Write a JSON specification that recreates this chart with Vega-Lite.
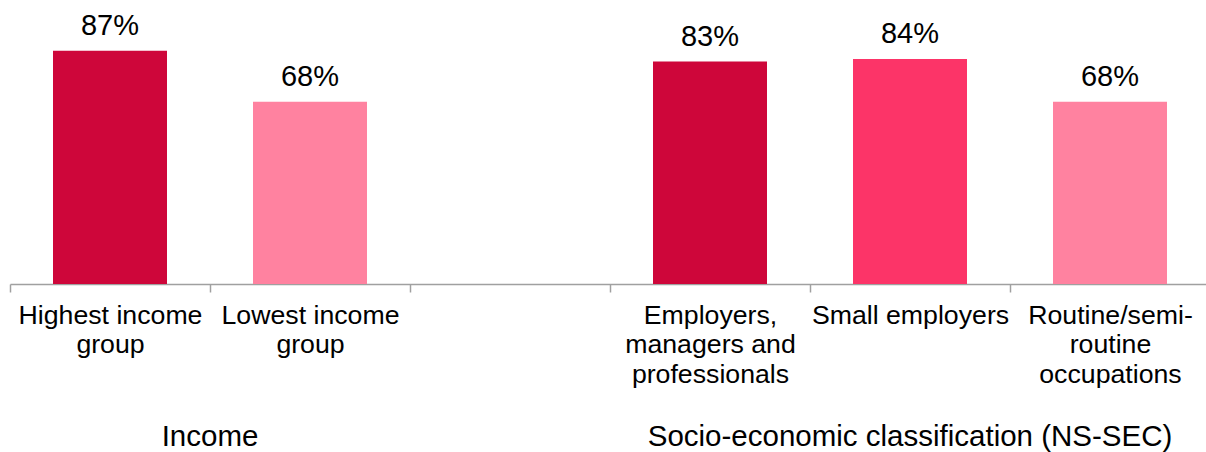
{
  "$schema": "https://vega.github.io/schema/vega-lite/v6.json",
  "width": 1200,
  "height": 268,
  "autosize": "none",
  "padding": {"left": 10, "top": 16, "right": 0, "bottom": 168},
  "config": {"view": {"stroke": null}, "font": "Liberation Sans", "text": {"font": "Liberation Sans"}},
  "datasets": {
    "bars": [
      {"category": "Highest income|group", "value": 0.87, "shade": "dark"},
      {"category": "Lowest income|group", "value": 0.68, "shade": "light"},
      {"category": "Employers,|managers and|professionals", "value": 0.83, "shade": "dark"},
      {"category": "Small employers", "value": 0.84, "shade": "mid"},
      {"category": "Routine/semi-|routine|occupations", "value": 0.68, "shade": "light"}
    ],
    "groups": [
      {"category": "Highest income|group", "label": "Income", "pos": -0.604},
      {"category": "Small employers", "label": "Socio-economic classification (NS-SEC)", "pos": -0.604}
    ]
  },
  "encoding": {
    "x": {
      "field": "category",
      "type": "nominal",
      "sort": null,
      "scale": {
        "domain": ["Highest income|group", "Lowest income|group", " ", "Employers,|managers and|professionals", "Small employers", "Routine/semi-|routine|occupations"],
        "paddingInner": 0,
        "paddingOuter": 0
      },
      "axis": {
        "title": null,
        "tickBand": "extent",
        "labelExpr": "split(datum.label, '|')",
        "labelFontSize": 26.7,
        "labelLineHeight": 29.5,
        "labelColor": "#000000",
        "labelFont": "Liberation Sans",
        "labelAngle": 0,
        "labelBaseline": "top",
        "labelPadding": 10,
        "labelLimit": 400,
        "labelOverlap": false,
        "labelBound": false,
        "domainColor": "#A0A0A0",
        "domainWidth": 1.5,
        "tickColor": "#A0A0A0",
        "tickWidth": 1.5,
        "tickSize": 8,
        "grid": false
      }
    }
  },
  "layer": [
    {
      "data": {"name": "bars"},
      "mark": {"type": "bar", "width": {"band": 0.57}},
      "encoding": {
        "y": {"field": "value", "type": "quantitative", "scale": {"domain": [0, 1]}, "axis": null},
        "color": {
          "field": "shade",
          "type": "nominal",
          "scale": {"domain": ["dark", "mid", "light"], "range": ["#CE063A", "#FC3468", "#FF82A0"]},
          "legend": null
        }
      }
    },
    {
      "data": {"name": "bars"},
      "mark": {"type": "text", "baseline": "alphabetic", "dy": -16, "fontSize": 29, "color": "#000000"},
      "encoding": {
        "y": {"field": "value", "type": "quantitative", "scale": {"domain": [0, 1]}},
        "text": {"field": "value", "type": "quantitative", "format": ".0%"}
      }
    },
    {
      "data": {"name": "groups"},
      "transform": [{"filter": "datum.label === 'Income'"}],
      "mark": {"type": "text", "baseline": "alphabetic", "fontSize": 29.5, "color": "#000000"},
      "encoding": {
        "x": {"field": "category", "type": "nominal", "bandPosition": 1},
        "y": {"field": "pos", "type": "quantitative", "scale": {"domain": [0, 1]}},
        "text": {"field": "label"}
      }
    },
    {
      "data": {"name": "groups"},
      "transform": [{"filter": "datum.label !== 'Income'"}],
      "mark": {"type": "text", "baseline": "alphabetic", "fontSize": 29.5, "color": "#000000"},
      "encoding": {
        "x": {"field": "category", "type": "nominal", "bandPosition": 0.5},
        "y": {"field": "pos", "type": "quantitative", "scale": {"domain": [0, 1]}},
        "text": {"field": "label"}
      }
    }
  ]
}
